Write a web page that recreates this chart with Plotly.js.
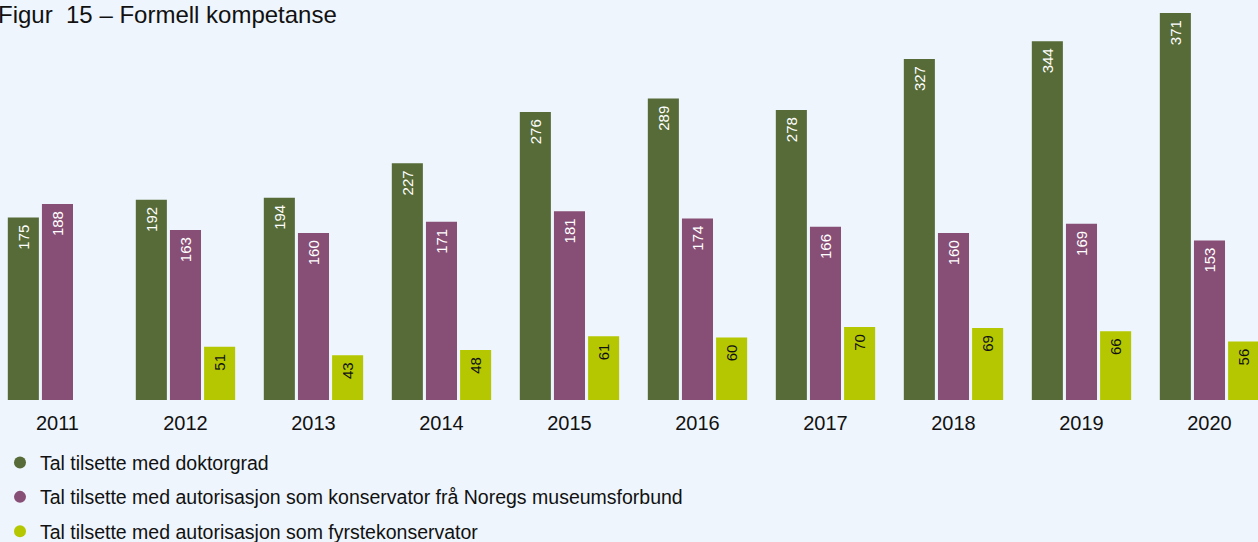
<!DOCTYPE html>
<html>
<head>
<meta charset="utf-8">
<script src="https://cdn.plot.ly/plotly-3.0.1.min.js"></script>
<style>
  html, body { margin: 0; padding: 0; background: #eef5fc; }
  #chart { width: 1258px; height: 542px; }
</style>
</head>
<body>
<div id="chart"></div>
<script>
// Figur 15 - Formell kompetanse

const years = ['2011', '2012', '2013', '2014', '2015', '2016', '2017', '2018', '2019', '2020'];
const doktorgrad = [175, 192, 194, 227, 276, 289, 278, 327, 344, 371];
const konservator = [188, 163, 160, 171, 181, 174, 166, 160, 169, 153];
const fyrstekonservator = [null, 51, 43, 48, 61, 60, 70, 69, 66, 56];

const seriesNames = [
    'Tal tilsette med doktorgrad',
    'Tal tilsette med autorisasjon som konservator frå Noregs museumsforbund',
    'Tal tilsette med autorisasjon som fyrstekonservator'
];
const colors = ['#566b37', '#874f75', '#b5c700'];
const labelColors = ['#ffffff', '#ffffff', '#111111'];

const FONT = '"Liberation Sans", Arial, sans-serif';

function barTrace(values, i) {
    return {
        type: 'bar',
        x: years,
        y: values,
        name: seriesNames[i],
        marker: {color: colors[i]},
        // trailing nbsp keeps the label a little further from the bar end
        text: values.map(v => v == null ? '' : v + '\u00a0'),
        textposition: 'inside',
        insidetextanchor: 'end',
        textangle: -90,
        textfont: {family: FONT, size: 15, color: labelColors[i]},
        showlegend: false,
        hoverinfo: 'x+y'
    };
}

// legend entries drawn as round dots
function legendTrace(i) {
    return {
        type: 'scatter',
        mode: 'markers',
        x: [null],
        y: [null],
        name: seriesNames[i],
        legendgroup: 'g' + i,
        marker: {color: colors[i], size: 14, symbol: 'circle'},
        hoverinfo: 'skip'
    };
}

const data = [
    barTrace(doktorgrad, 0),
    barTrace(konservator, 1),
    barTrace(fyrstekonservator, 2),
    legendTrace(0),
    legendTrace(1),
    legendTrace(2)
];

const layout = {
    width: 1258,
    height: 542,
    margin: {l: 0, r: 0, t: 13, b: 142, autoexpand: false},
    paper_bgcolor: '#eef5fc',
    plot_bgcolor: '#eef5fc',
    font: {family: FONT, color: '#111111'},
    barmode: 'group',
    bargap: 0.2,
    bargroupgap: 0.09,
    xaxis: {
        type: 'category',
        range: [-0.449, 9.379],
        automargin: false,
        showgrid: false,
        zeroline: false,
        showline: false,
        ticks: '',
        tickfont: {family: FONT, size: 20, color: '#111111'},
        ticklabelstandoff: 9
    },
    yaxis: {
        range: [0, 371],
        visible: false,
        automargin: false,
        showgrid: false,
        zeroline: false
    },
    showlegend: true,
    legend: {
        orientation: 'v',
        x: 0,
        xanchor: 'left',
        y: -0.112,
        yanchor: 'top',
        font: {family: FONT, size: 19.5, color: '#111111'},
        bgcolor: 'rgba(0,0,0,0)',
        tracegroupgap: 6,
        itemsizing: 'constant',
        itemwidth: 30
    },
    annotations: [{
        text: 'Figur  15 – Formell kompetanse',
        xref: 'paper',
        yref: 'paper',
        x: -0.003,
        xanchor: 'left',
        y: 1.037,
        yanchor: 'top',
        showarrow: false,
        font: {family: FONT, size: 24, color: '#111111'}
    }]
};

Plotly.newPlot('chart', data, layout, {displayModeBar: false, staticPlot: true});
</script>
</body>
</html>
